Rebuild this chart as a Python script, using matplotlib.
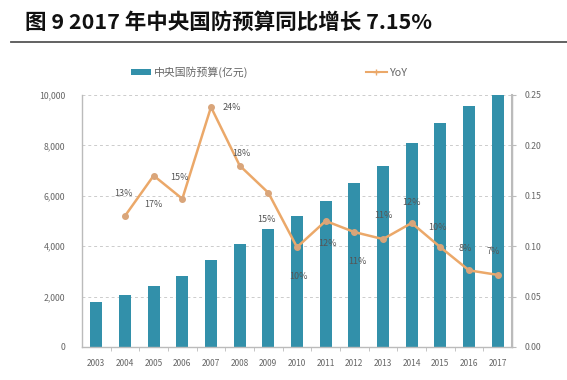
import matplotlib
matplotlib.use("Agg")
import matplotlib.pyplot as plt
from matplotlib.lines import Line2D
from matplotlib.patches import Patch

plt.rcParams['font.family'] = ['Noto Sans CJK SC', 'DejaVu Sans']

years = ['2003', '2004', '2005', '2006', '2007', '2008', '2009', '2010',
         '2011', '2012', '2013', '2014', '2015', '2016', '2017']
budget = [1800, 2050, 2400, 2800, 3450, 4100, 4700, 5200,
          5800, 6500, 7200, 8100, 8900, 9550, 10000]
yoy_years = years[1:]
yoy = [0.130, 0.170, 0.147, 0.238, 0.180, 0.153, 0.099,
       0.125, 0.114, 0.107, 0.123, 0.099, 0.076, 0.0715]
yoy_labels = ['13%', '17%', '15%', '24%', '18%', '15%', '10%',
              '12%', '11%', '11%', '12%', '10%', '8%', '7%']
label_offsets = [(-1, 16), (0, -21), (-2, 15), (15, 0), (1, 9), (-1, -19), (1, -21),
                 (1, -16), (2, -21), (0, 17), (0, 15), (-2, 14), (-3, 16), (-3, 17)]

left_ticks = [0, 2000, 4000, 6000, 8000, 10000]
left_ticklabels = ['0', '2,000', '4,000', '6,000', '8,000', '10,000']
right_ticks = [0.0, 0.05, 0.10, 0.15, 0.20, 0.25]
right_ticklabels = ['0.00', '0.05', '0.10', '0.15', '0.20', '0.25']

bar_color = '#3290AA'
line_color = '#EBA869'
text_gray = '#666666'
axis_gray = '#BBBBBB'

fig = plt.figure(figsize=(5.67, 3.8), dpi=100)
fig.patch.set_facecolor('white')

fig.text(0.044, 0.942, '图 9 2017 年中央国防预算同比增长 7.15%', fontsize=15.5,
         fontweight='heavy', ha='left', va='center', color='#111111')
fig.add_artist(Line2D([0.02, 1.0], [0.889, 0.889], color='#555555', lw=1.3))

ax = fig.add_axes([0.1446, 0.087, 0.7584, 0.663])
x = list(range(len(years)))
ax.bar(x, budget, width=0.42, color=bar_color, zorder=2)
ax.set_xlim(-0.5, len(years) - 0.5)
ax.set_ylim(0, 10000)
ax.set_yticks(left_ticks)
ax.set_yticklabels(left_ticklabels)
ax.set_xticks(x)
ax.set_xticklabels(years)
ax.set_xticks([i + 0.5 for i in x[:-1]], minor=True)
ax.tick_params(axis='x', which='major', length=0, pad=9, labelsize=6, colors=text_gray)
ax.tick_params(axis='x', which='minor', length=3, color=axis_gray)
ax.tick_params(axis='y', length=0, pad=12, labelsize=6.3, colors=text_gray)
ax.yaxis.grid(True, linestyle=(0, (3, 3)), color='#CCCCCC', lw=0.7, zorder=0)
ax.set_axisbelow(True)
ax.spines['top'].set_visible(False)
for s in ['left', 'bottom', 'right']:
    ax.spines[s].set_color(axis_gray)
    ax.spines[s].set_linewidth(1.0)

ax2 = ax.twinx()
yx = [years.index(y) for y in yoy_years]
ax2.plot(yx, yoy, color=line_color, lw=1.8, marker='o', markersize=4,
         markerfacecolor='#D9A57A', markeredgecolor='#D9A57A', zorder=3)
ax2.set_ylim(0, 0.25)
ax2.set_yticks(right_ticks)
ax2.set_yticklabels(right_ticklabels)
ax2.tick_params(axis='y', length=3, color=axis_gray, pad=6, labelsize=6.3, colors=text_gray)
ax2.spines['top'].set_visible(False)
ax2.spines['right'].set_color(axis_gray)
ax2.spines['right'].set_linewidth(1.5)
ax2.spines['left'].set_visible(False)
ax2.spines['bottom'].set_visible(False)

for xi, yi, lab, off in zip(yx, yoy, yoy_labels, label_offsets):
    ax2.annotate(lab, (xi, yi), xytext=off, textcoords='offset points',
                 ha='center', va='center', fontsize=6.5, color='#555555')

handles = [Patch(facecolor=bar_color, edgecolor='none'),
           Line2D([0], [0], color=line_color, lw=1.5, marker='+', markersize=5)]
leg = fig.legend(handles, ['中央国防预算(亿元)', 'YoY'], ncol=2, loc='center',
                 bbox_to_anchor=(0.474, 0.81), frameon=False, fontsize=7.8,
                 columnspacing=10.9, handlelength=1.9, handleheight=0.5,
                 handletextpad=0.2)
for t in leg.get_texts():
    t.set_color(text_gray)

fig.savefig('out.png', dpi=100, facecolor='white')
